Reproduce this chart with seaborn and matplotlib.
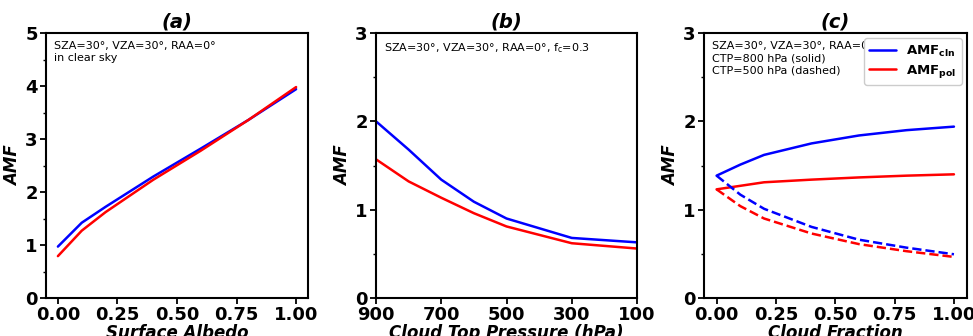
import numpy as np
import pandas as pd
import matplotlib
matplotlib.use("Agg")
import matplotlib.pyplot as plt
from matplotlib.ticker import MultipleLocator
import seaborn as sns

# (a) surface albedo, clear sky
albedo = [0.0, 0.1, 0.2, 0.4, 0.6, 0.8, 1.0]
amf_cln_albedo = [0.97, 1.42, 1.72, 2.29, 2.82, 3.36, 3.94]
amf_pol_albedo = [0.79, 1.27, 1.62, 2.23, 2.78, 3.36, 3.98]

# (b) cloud top pressure, fc=0.3
ctp = [900, 800, 700, 600, 500, 300, 100]
amf_cln_ctp = [2.00, 1.68, 1.34, 1.09, 0.90, 0.68, 0.63]
amf_pol_ctp = [1.57, 1.32, 1.135, 0.96, 0.81, 0.62, 0.56]

# (c) cloud fraction
cf = [0.0, 0.1, 0.2, 0.4, 0.6, 0.8, 1.0]
amf_cln_800 = [1.385, 1.51, 1.62, 1.75, 1.84, 1.90, 1.94]
amf_pol_800 = [1.23, 1.27, 1.31, 1.34, 1.365, 1.385, 1.40]
amf_cln_500 = [1.385, 1.17, 1.01, 0.805, 0.66, 0.57, 0.495]
amf_pol_500 = [1.23, 1.04, 0.90, 0.73, 0.61, 0.53, 0.465]

sns.set_style("ticks")
plt.rcParams['font.family'] = ['DejaVu Sans']
for key in ['text.color', 'axes.labelcolor', 'xtick.color', 'ytick.color', 'axes.edgecolor']:
    plt.rcParams[key] = 'black'

W, H = 973, 336
fig, axes = plt.subplots(1, 3, figsize=(W / 100, H / 100), dpi=100)
# axes boxes in pixels: left, right
boxes = [(46, 308), (376, 637), (704, 967)]
top_px, bot_px = 33, 298
for ax, (l, r) in zip(axes, boxes):
    ax.set_position([l / W, 1 - bot_px / H, (r - l) / W, (bot_px - top_px) / H])

lw = 1.8
label_font = dict(fontsize=12, fontweight='bold', fontstyle='italic')
note_size = 8


def style_axis(ax, title, xlabel):
    ax.set_title(title, fontsize=14, fontweight='bold', fontstyle='italic', pad=4)
    ax.set_xlabel(xlabel, labelpad=0, **label_font)
    ax.set_ylabel('AMF', labelpad=2, **label_font)
    for sp in ax.spines.values():
        sp.set_linewidth(1.5)
    ax.tick_params(axis='both', which='major', width=1.3, length=4, labelsize=13, pad=2)
    ax.tick_params(axis='y', which='minor', width=1.0, length=2.5)
    for lab in ax.get_xticklabels() + ax.get_yticklabels():
        lab.set_fontweight('bold')
    ax.yaxis.set_minor_locator(MultipleLocator(0.5))


# panel a
ax = axes[0]
sns.lineplot(x=albedo, y=amf_cln_albedo, ax=ax, color='blue', lw=lw)
sns.lineplot(x=albedo, y=amf_pol_albedo, ax=ax, color='red', lw=lw)
ax.set_xlim(-0.05, 1.05)
ax.set_ylim(0, 5)
ax.set_xticks([0, 0.25, 0.5, 0.75, 1.0])
ax.set_xticklabels(['0.00', '0.25', '0.50', '0.75', '1.00'])
ax.set_yticks([0, 1, 2, 3, 4, 5])
ax.text(0.03, 0.97, 'SZA=30°, VZA=30°, RAA=0°\nin clear sky', transform=ax.transAxes,
        va='top', ha='left', fontsize=note_size, linespacing=1.3)
style_axis(ax, '(a)', 'Surface Albedo')

# panel b
ax = axes[1]
sns.lineplot(x=ctp, y=amf_cln_ctp, ax=ax, color='blue', lw=lw)
sns.lineplot(x=ctp, y=amf_pol_ctp, ax=ax, color='red', lw=lw)
ax.set_xlim(900, 100)
ax.set_ylim(0, 3)
ax.set_xticks([900, 700, 500, 300, 100])
ax.set_yticks([0, 1, 2, 3])
ax.text(0.03, 0.97, 'SZA=30°, VZA=30°, RAA=0°, f$_\\mathregular{c}$=0.3', transform=ax.transAxes,
        va='top', ha='left', fontsize=note_size)
style_axis(ax, '(b)', 'Cloud Top Pressure (hPa)')

# panel c
ax = axes[2]
sns.lineplot(x=cf, y=amf_cln_800, ax=ax, color='blue', lw=lw, label=r'$\mathbf{AMF_{cln}}$')
sns.lineplot(x=cf, y=amf_pol_800, ax=ax, color='red', lw=lw, label=r'$\mathbf{AMF_{pol}}$')
sns.lineplot(x=cf, y=amf_cln_500, ax=ax, color='blue', lw=lw, linestyle='--')
sns.lineplot(x=cf, y=amf_pol_500, ax=ax, color='red', lw=lw, linestyle='--')
ax.set_xlim(-0.053, 1.055)
ax.set_ylim(0, 3)
ax.set_xticks([0, 0.25, 0.5, 0.75, 1.0])
ax.set_xticklabels(['0.00', '0.25', '0.50', '0.75', '1.00'])
ax.set_yticks([0, 1, 2, 3])
ax.text(0.03, 0.97, 'SZA=30°, VZA=30°, RAA=0°\nCTP=800 hPa (solid)\nCTP=500 hPa (dashed)',
        transform=ax.transAxes, va='top', ha='left', fontsize=note_size, linespacing=1.3)
ax.legend(loc='upper right', fontsize=9.5, handlelength=2.0, borderaxespad=0.4,
          labelspacing=0.3, borderpad=0.4, handletextpad=0.8, framealpha=1.0)
style_axis(ax, '(c)', 'Cloud Fraction')

fig.savefig('out.png', dpi=100)
